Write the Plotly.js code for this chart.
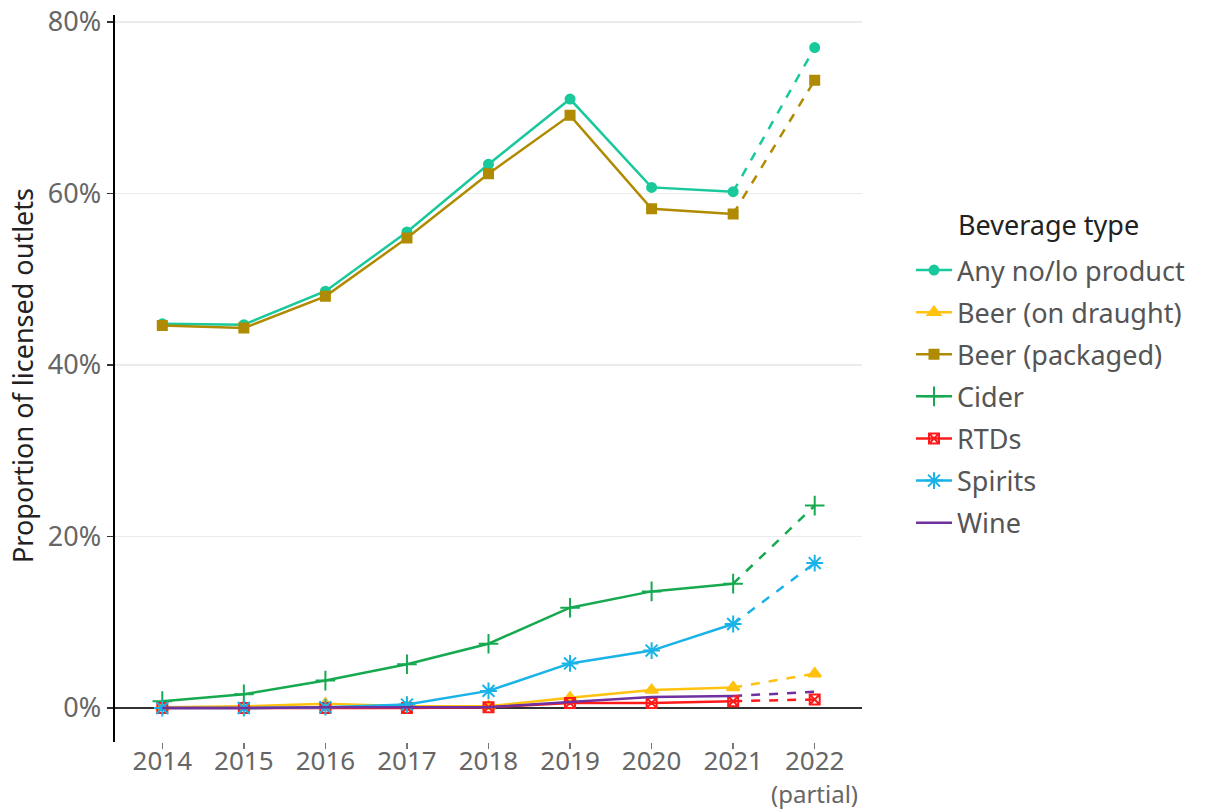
<!DOCTYPE html>
<html>
<head>
<meta charset="utf-8">
<script src="https://cdn.plot.ly/plotly-3.0.1.min.js"></script>
<style>html,body{margin:0;padding:0;background:#fff;}#chart{width:1205px;height:809px;}</style>
</head>
<body>
<div id="chart"></div>
<script>
const years = [2014, 2015, 2016, 2017, 2018, 2019, 2020, 2021, 2022];
const yearLabels = ["2014", "2015", "2016", "2017", "2018", "2019", "2020", "2021", "2022"];
const partialNote = "(partial)";
const anyNoLo = [44.8, 44.7, 48.6, 55.5, 63.4, 71.0, 60.7, 60.2, 77.0];
const beerDraught = [0.1, 0.2, 0.5, 0.2, 0.2, 1.2, 2.1, 2.4, 4.0];
const beerPackaged = [44.6, 44.3, 48.0, 54.8, 62.3, 69.1, 58.2, 57.6, 73.2];
const cider = [0.8, 1.6, 3.2, 5.1, 7.5, 11.7, 13.6, 14.5, 23.6];
const rtds = [0.0, 0.0, 0.0, 0.0, 0.1, 0.6, 0.6, 0.8, 1.0];
const spirits = [0.0, 0.0, 0.1, 0.4, 2.0, 5.2, 6.7, 9.8, 16.9];
const wine = [0.0, 0.0, 0.1, 0.1, 0.1, 0.7, 1.3, 1.4, 1.9];

const series = [
  {name: "Any no/lo product", y: anyNoLo, color: "#19C99B", symbol: "circle", size: 9},
  {name: "Beer (on draught)", y: beerDraught, color: "#FFC20E", symbol: "triangle-up", size: 11},
  {name: "Beer (packaged)", y: beerPackaged, color: "#B08A00", symbol: "square", size: 9},
  {name: "Cider", y: cider, color: "#16A950", symbol: "cross-thin-open", size: 14},
  {name: "RTDs", y: rtds, color: "#FF1A1A", symbol: "square-x-open", size: 10},
  {name: "Spirits", y: spirits, color: "#1AB3E8", symbol: "asterisk-open", size: 14},
  {name: "Wine", y: wine, color: "#7030A0", symbol: null, size: 0}
];

const FONT = "'Noto Sans', 'Open Sans', sans-serif";
const traces = [];
const n = years.length;
series.forEach((s, i) => {
  const t = {
    x: years.slice(n - 2), y: s.y.slice(n - 2),
    type: "scatter",
    mode: s.symbol ? "lines+markers" : "lines",
    line: {color: s.color, width: 2.5, dash: "dash"},
    legendgroup: "g" + i,
    showlegend: false, hoverinfo: "skip"
  };
  if (s.symbol) t.marker = {symbol: s.symbol, size: s.size, color: s.color, line: {color: s.color, width: 2}, opacity: [0, 1]};
  traces.push(t);
});
series.forEach((s, i) => {
  const t = {
    x: years.slice(0, n - 1), y: s.y.slice(0, n - 1),
    name: s.name,
    legendgroup: "g" + i,
    type: "scatter",
    mode: s.symbol ? "lines+markers" : "lines",
    line: {color: s.color, width: 2.5}
  };
  if (s.symbol) t.marker = {symbol: s.symbol, size: s.size, color: s.color, line: {color: s.color, width: 2}};
  traces.push(t);
});

const layout = {
  width: 1205, height: 809,
  margin: {l: 115, r: 343, t: 15, b: 67},
  paper_bgcolor: "#fff", plot_bgcolor: "#fff",
  font: {family: FONT, color: "#666"},
  xaxis: {
    range: [2013.42, 2022.58],
    tickvals: years, ticktext: yearLabels,
    showgrid: false, zeroline: false, showline: false,
    ticks: "outside", ticklen: 6, tickwidth: 1.5, tickcolor: "#777",
    ticklabelstandoff: -10,
    tickfont: {size: 26, color: "#666", family: FONT}
  },
  yaxis: {
    range: [-3.96, 80.8],
    tickvals: [0, 20, 40, 60, 80],
    ticktext: ["0%", "20%", "40%", "60%", "80%"],
    showgrid: true, gridcolor: "#EBEBEB", gridwidth: 1.5,
    zeroline: true, zerolinecolor: "#333", zerolinewidth: 2,
    showline: true, linecolor: "#000", linewidth: 2.5,
    ticks: "outside", ticklen: 6, tickwidth: 1.5, tickcolor: "#333",
    tickfont: {size: 27, color: "#666", family: FONT}
  },
  annotations: [
    {text: partialNote, xref: "x", yref: "paper", x: years[n - 1], y: (742 - 794) / 727,
     xanchor: "center", yanchor: "middle", showarrow: false, borderpad: 0,
     font: {size: 24, color: "#666", family: FONT}},
    {text: "Proportion of licensed outlets", textangle: -90, xref: "paper", yref: "paper",
     x: (22 - 115) / 747, y: (742 - 376) / 727, xanchor: "center", yanchor: "middle", showarrow: false,
     font: {size: 27, color: "#222", family: FONT}},
    {text: "Beverage type", xref: "paper", yref: "paper",
     x: (956 - 115) / 747, y: (742 - 225) / 727, xanchor: "left", yanchor: "middle", showarrow: false,
     font: {size: 27, color: "#222", family: FONT}}
  ],
  legend: {
    x: (911 - 115) / 747, y: (742 - 246) / 727, xanchor: "left", yanchor: "top",
    font: {size: 27, color: "#555", family: FONT},
    tracegroupgap: 4, itemwidth: 36,
    bgcolor: "rgba(0,0,0,0)"
  },
  showlegend: true
};
Plotly.newPlot("chart", traces, layout, {staticPlot: true, displayModeBar: false});
</script>
</body>
</html>
